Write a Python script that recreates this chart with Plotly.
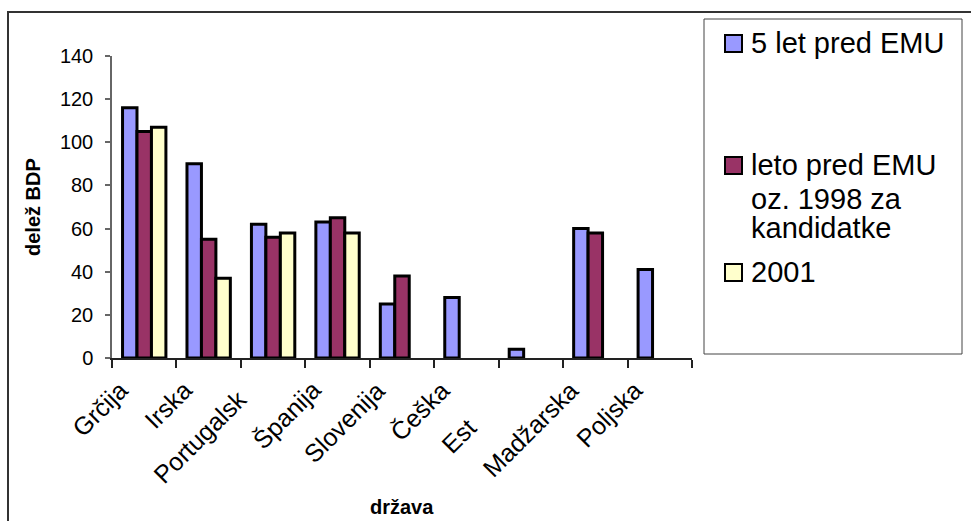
import plotly.graph_objects as go

# Javni dolg (delež BDP) po državah
countries = ["Grčija", "Irska", "Portugalska", "Španija", "Slovenija",
             "Češka", "Estonija", "Madžarska", "Poljska"]
# visible part of each category label (long labels are cut off)
tick_labels = ["Grčija", "Irska", "Portugalsk", "Španija", "Slovenija",
               "Češka", "Est", "Madžarska", "Poljska"]

series_names = ["5 let pred EMU", "leto pred EMU oz. 1998 za kandidatke", "2001"]
five_years_before = [116, 90, 62, 63, 25, 28, 4, 60, 41]
year_before = [105, 55, 56, 65, 38, None, None, 58, None]
year_2001 = [107, 37, 58, 58, None, None, None, None, None]

legend_lines = [["5 let pred EMU"],
                ["leto pred EMU", "oz. 1998 za", "kandidatke"],
                ["2001"]]

colors = ["#9999FF", "#993366", "#FFFFCC"]
FONT = "Arial, Liberation Sans, sans-serif"

# plot area in pixels
W_FIG, H_FIG = 971, 521
L, R, T, B = 112, 692, 56, 358


def px(x):
    return (x - L) / (R - L)


def py(y):
    return (B - y) / (B - T)


fig = go.Figure()
for name, vals, col in zip(series_names, [five_years_before, year_before, year_2001], colors):
    fig.add_trace(go.Bar(
        x=countries, y=vals, name=name,
        marker=dict(color=col, line=dict(color="#000000", width=3)),
        showlegend=False,
    ))

annotations = []
# rotated category labels; the cut-off remainder keeps its space but is transparent
for c, lab in zip(countries, tick_labels):
    rest = c[len(lab):] if c.startswith(lab) else ""
    text = lab + (f"<span style='color:rgba(0,0,0,0)'>{rest}</span>" if rest else "")
    annotations.append(dict(
        x=c, xref="x", y=0, yref="y", text=text, showarrow=False,
        textangle=-45, xanchor="right", yanchor="top",
        xshift=-9, yshift=-15,
        font=dict(family=FONT, size=25, color="#000000"),
    ))

# axis titles
annotations.append(dict(
    x=px(33), xref="paper", y=0.5, yref="paper", text="<b>delež BDP</b>",
    textangle=-90, showarrow=False, xanchor="center", yanchor="middle",
    font=dict(family=FONT, size=20, color="#000000"),
))
annotations.append(dict(
    x=0.5, xref="paper", y=py(507), yref="paper", text="<b>država</b>",
    showarrow=False, xanchor="center", yanchor="middle",
    font=dict(family=FONT, size=20, color="#000000"),
))

shapes = []
# outer chart frame
shapes.append(dict(type="rect", xref="paper", yref="paper",
                   x0=px(8), x1=px(990), y0=py(540), y1=py(12),
                   line=dict(color="#333333", width=2), fillcolor="rgba(0,0,0,0)"))
# legend box
shapes.append(dict(type="rect", xref="paper", yref="paper",
                   x0=px(704), x1=px(962), y0=py(354), y1=py(19),
                   line=dict(color="#444444", width=1), fillcolor="#FFFFFF"))

# legend entries
line_y = [[43], [165, 199, 228], [272]]
for lines, ys, col in zip(legend_lines, line_y, colors):
    y0 = ys[0]
    shapes.append(dict(type="rect", xref="paper", yref="paper",
                       x0=px(725), x1=px(742), y0=py(y0 + 9), y1=py(y0 - 8),
                       line=dict(color="#000000", width=2), fillcolor=col))
    for txt, yy in zip(lines, ys):
        annotations.append(dict(
            x=px(749), xref="paper", y=py(yy), yref="paper", text=txt,
            showarrow=False, xanchor="left", yanchor="middle",
            font=dict(family=FONT, size=29, color="#000000"),
        ))

fig.update_layout(
    width=W_FIG, height=H_FIG,
    margin=dict(l=L, r=W_FIG - R, t=T, b=H_FIG - B, pad=0),
    paper_bgcolor="#FFFFFF", plot_bgcolor="#FFFFFF",
    barmode="group", bargap=0.327, bargroupgap=0,
    font=dict(family=FONT, color="#000000"),
    annotations=annotations, shapes=shapes,
    xaxis=dict(
        type="category", range=[-0.5, len(countries) - 0.5],
        showticklabels=False, showgrid=False,
        showline=True, linecolor="#222222", linewidth=1.5,
        ticks="outside", tickson="boundaries", ticklen=8,
        tickcolor="#222222", tickwidth=1.5, zeroline=False,
    ),
    yaxis=dict(
        range=[0, 140], dtick=20, showgrid=False, zeroline=False,
        showline=True, linecolor="#666666", linewidth=1.5,
        ticks="outside", ticklen=5, tickcolor="#666666", tickwidth=1.5,
        tickfont=dict(family=FONT, size=20, color="#000000"),
        ticklabelstandoff=8,
    ),
)

fig.write_html("out.html")
